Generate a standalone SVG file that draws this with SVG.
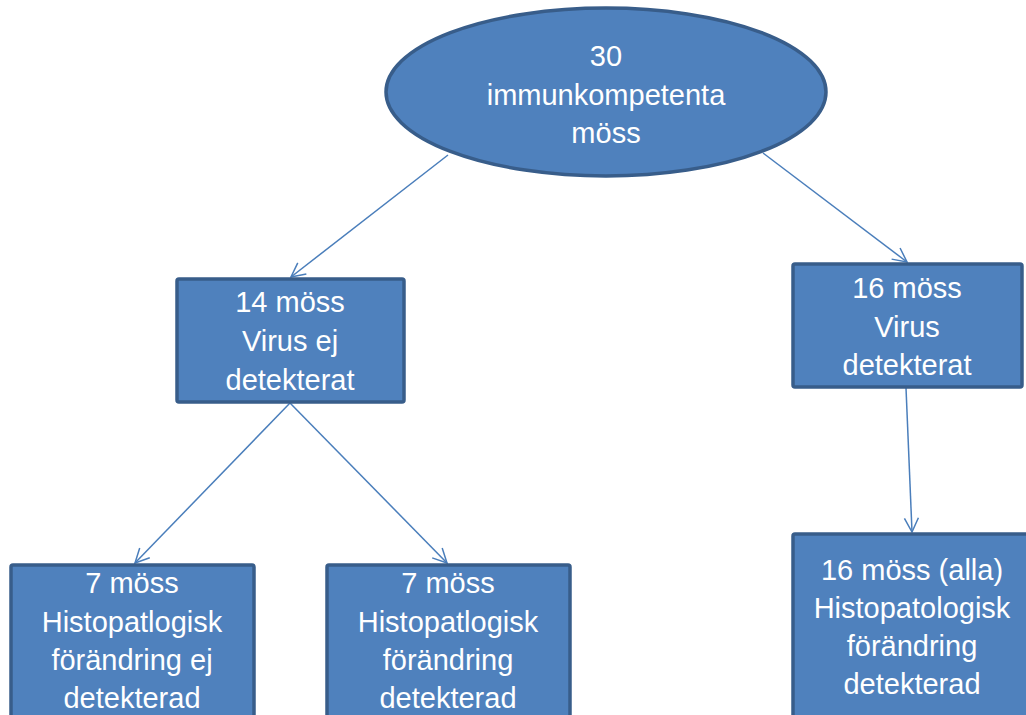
<svg xmlns="http://www.w3.org/2000/svg" width="1026" height="715" viewBox="0 0 1026 715">
<style>
.node{fill:#4f81bd;stroke:#385d8a;stroke-width:3.5}
.t{fill:#ffffff;font-family:"Liberation Sans",Arial,sans-serif;font-size:29px;text-anchor:middle}
.c{stroke:#4a7ebb;stroke-width:1.5;fill:none;marker-end:url(#ah)}
</style>
<defs>
<marker id="ah" viewBox="0 0 16 16" refX="15" refY="8" markerWidth="16" markerHeight="16" markerUnits="userSpaceOnUse" orient="auto">
<path d="M1,1 L15,8 L1,15" fill="none" stroke="#4a7ebb" stroke-width="1.5"/>
</marker>
</defs>
<rect width="1026" height="715" fill="#ffffff"/>
<g id="connectors">
<line class="c" x1="448" y1="155" x2="291" y2="277"/>
<line class="c" x1="763" y1="153" x2="907" y2="262"/>
<line class="c" x1="290" y1="403" x2="135" y2="563"/>
<line class="c" x1="290" y1="403" x2="447" y2="563"/>
<line class="c" x1="906" y1="388" x2="912" y2="532"/>
</g>
<g id="root">
<ellipse class="node" cx="606" cy="92" rx="220" ry="84"/>
<text class="t" x="606" y="66">30</text>
<text class="t" x="606" y="105">immunkompetenta</text>
<text class="t" x="606" y="143">möss</text>
</g>
<g id="n14">
<rect class="node" x="177" y="279" width="227" height="123" rx="2"/>
<text class="t" x="290" y="312">14 möss</text>
<text class="t" x="290" y="351">Virus ej</text>
<text class="t" x="290" y="390">detekterat</text>
</g>
<g id="n16">
<rect class="node" x="793" y="264" width="229" height="123" rx="2"/>
<text class="t" x="907" y="298">16 möss</text>
<text class="t" x="907" y="337">Virus</text>
<text class="t" x="907" y="375">detekterat</text>
</g>
<g id="n7a">
<rect class="node" x="11" y="565" width="243" height="160" rx="2"/>
<text class="t" x="132" y="593">7 möss</text>
<text class="t" x="132" y="632">Histopatlogisk</text>
<text class="t" x="132" y="670">förändring ej</text>
<text class="t" x="132" y="708">detekterad</text>
</g>
<g id="n7b">
<rect class="node" x="327" y="565" width="243" height="160" rx="2"/>
<text class="t" x="448" y="593">7 möss</text>
<text class="t" x="448" y="632">Histopatlogisk</text>
<text class="t" x="448" y="670">förändring</text>
<text class="t" x="448" y="708">detekterad</text>
</g>
<g id="n16all">
<rect class="node" x="793" y="534" width="240" height="190" rx="2"/>
<text class="t" x="912" y="580">16 möss (alla)</text>
<text class="t" x="912" y="618">Histopatologisk</text>
<text class="t" x="912" y="656">förändring</text>
<text class="t" x="912" y="694">detekterad</text>
</g>
</svg>
